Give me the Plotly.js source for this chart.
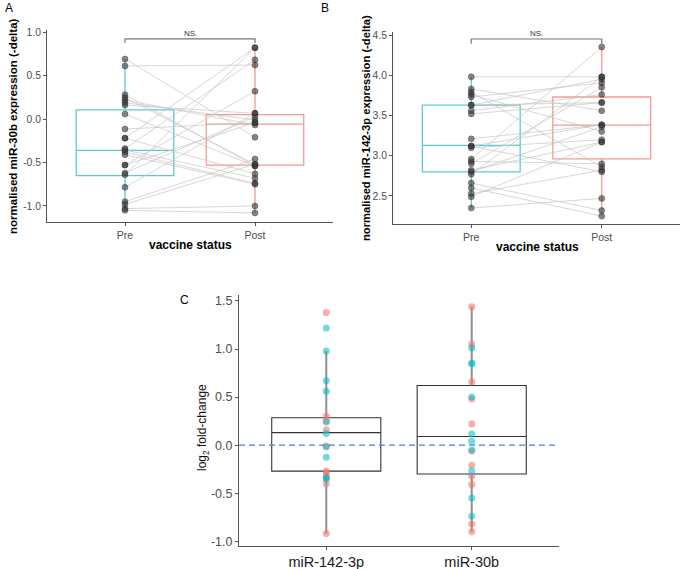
<!DOCTYPE html>
<html>
<head>
<meta charset="utf-8">
<script src="https://cdn.plot.ly/plotly-3.0.1.min.js"></script>
<style>html,body{margin:0;padding:0;background:#fff;}#chart{width:683px;height:569px;}</style>
</head>
<body>
<div id="chart"></div>
<script>
// ---------- Data ----------
const statusCats = ['Pre', 'Post'];
// Panel A: miR-30b paired values (pre / post)
const preA  = [0.69, 0.61, 0.28, 0.245, 0.218, 0.187, 0.16, 0.057, -0.115, -0.22, -0.22, -0.34, -0.356, -0.38, -0.41, -0.53, -0.53, -0.62, -0.64, -0.785, -0.95, -0.98, -1.03, -1.05];
const postA = [-0.21, 0.62, -0.54, -0.52, -0.069, -0.011, 0.065, -0.54, -0.042, 0.82, -0.63, 0.68, -0.68, -0.74, -0.75, 0.32, -0.042, 0.027, 0.82, 0.065, -0.46, -0.52, -1.0, -1.08];
const boxA_q1  = [-0.65, -0.53];
const boxA_med = [-0.36, -0.06];
const boxA_q3  = [0.105, 0.05];
const boxA_lo  = [-1.05, -1.08];
const boxA_hi  = [0.69, 0.82];
const yTicksA = [-1.0, -0.5, 0.0, 0.5, 1.0];
const yTickTextA = ['-1.0', '-0.5', '0.0', '0.5', '1.0'];

// Panel B: miR-142-3p paired values (pre / post)
const preB  = [3.98, 3.83, 3.79, 3.76, 3.73, 3.63, 3.63, 3.56, 3.52, 3.21, 3.12, 3.12, 3.10, 2.96, 2.93, 2.90, 2.82, 2.80, 2.77, 2.66, 2.60, 2.53, 2.49, 2.35];
const postB = [3.98, 3.56, 2.86, 3.30, 3.905, 3.95, 3.66, 3.76, 3.66, 3.385, 3.385, 2.80, 3.20, 4.35, 2.90, 3.85, 3.17, 3.36, 3.98, 2.32, 2.25, 2.82, 3.17, 2.47];
const boxB_q1  = [2.80, 2.96];
const boxB_med = [3.13, 3.38];
const boxB_q3  = [3.63, 3.73];
const boxB_lo  = [2.35, 2.25];
const boxB_hi  = [3.98, 4.35];
const yTicksB = [2.5, 3.0, 3.5, 4.0, 4.5];
const yTickTextB = ['2.5', '3.0', '3.5', '4.0', '4.5'];

// Panel C: log2 fold-change
const mirCats = ['miR-142-3p', 'miR-30b'];
const fc142_red  = [1.38, 0.30, 0.25, 0.16, -0.01, -0.27, -0.29, -0.33, -0.40, -0.92];
const fc142_blue = [1.22, 0.98, 0.67, 0.56, 0.24, 0.12, -0.02, -0.125, -0.34, -0.35];
const fc30b_red  = [1.44, 1.05, 0.66, 0.48, 0.22, -0.06, -0.21, -0.32, -0.41, -0.82, -0.90];
const fc30b_blue = [1.01, 0.85, 0.85, 0.50, 0.115, 0.04, -0.05, -0.27, -0.55, -0.74];
const boxC_q1  = [-0.27, -0.30];
const boxC_med = [0.13, 0.09];
const boxC_q3  = [0.285, 0.62];
const boxC_lo  = [-0.92, -0.90];
const boxC_hi  = [0.98, 1.44];
const yTicksC = [-1.0, -0.5, 0.0, 0.5, 1.0, 1.5];
const yTickTextC = ['-1.0', '-0.5', '0.0', '0.5', '1.0', '1.5'];

// ---------- Styles ----------
const CYAN = '#5ccacd';
const SALMON = '#f29a95';
const FONT = 'Liberation Sans, Arial, sans-serif';

function pairLines(pre, post, xa, ya) {
  const xs = [], ys = [];
  for (let i = 0; i < pre.length; i++) { xs.push(1, 2, null); ys.push(pre[i], post[i], null); }
  return {type: 'scatter', mode: 'lines', x: xs, y: ys, xaxis: xa, yaxis: ya,
          line: {color: 'rgba(195,195,195,0.75)', width: 0.9}, hoverinfo: 'skip'};
}
function pairPoints(pre, post, xa, ya) {
  return {type: 'scatter', mode: 'markers',
          x: pre.map(() => 1).concat(post.map(() => 2)), y: pre.concat(post),
          xaxis: xa, yaxis: ya,
          marker: {size: 6, color: 'rgba(55,55,55,0.6)', line: {width: 0.6, color: 'rgba(30,30,30,0.6)'}}};
}
function boxTrace(xpos, q1, med, q3, lo, hi, color, width, xa, ya) {
  return {type: 'box', x: [xpos], q1: [q1], median: [med], q3: [q3], lowerfence: [lo], upperfence: [hi],
          xaxis: xa, yaxis: ya, width: 0.75, whiskerwidth: 0, boxpoints: false,
          fillcolor: 'rgba(0,0,0,0)', line: {color: color, width: width}, hoverinfo: 'skip'};
}
function whiskerLines(q1, q3, lo, hi) {
  const xs = [], ys = [];
  for (let i = 0; i < q1.length; i++) { xs.push(i + 1, i + 1, null, i + 1, i + 1, null); ys.push(lo[i], q1[i], null, q3[i], hi[i], null); }
  return {type: 'scatter', mode: 'lines', x: xs, y: ys, xaxis: 'x3', yaxis: 'y3',
          line: {color: '#8f8f8f', width: 2}, hoverinfo: 'skip'};
}
function fcPoints(vals, xpos, color) {
  return {type: 'scatter', mode: 'markers', x: vals.map(() => xpos), y: vals, xaxis: 'x3', yaxis: 'y3',
          marker: {size: 7, color: color}};
}

const traces = [
  boxTrace(1, boxA_q1[0], boxA_med[0], boxA_q3[0], boxA_lo[0], boxA_hi[0], CYAN, 1.3, 'x', 'y'),
  boxTrace(2, boxA_q1[1], boxA_med[1], boxA_q3[1], boxA_lo[1], boxA_hi[1], SALMON, 1.3, 'x', 'y'),
  pairLines(preA, postA, 'x', 'y'),
  pairPoints(preA, postA, 'x', 'y'),
  boxTrace(1, boxB_q1[0], boxB_med[0], boxB_q3[0], boxB_lo[0], boxB_hi[0], CYAN, 1.3, 'x2', 'y2'),
  boxTrace(2, boxB_q1[1], boxB_med[1], boxB_q3[1], boxB_lo[1], boxB_hi[1], SALMON, 1.3, 'x2', 'y2'),
  pairLines(preB, postB, 'x2', 'y2'),
  pairPoints(preB, postB, 'x2', 'y2'),
  // panel C: grey whiskers, dark box
  whiskerLines(boxC_q1, boxC_q3, boxC_lo, boxC_hi),
  boxTrace(1, boxC_q1[0], boxC_med[0], boxC_q3[0], boxC_q1[0], boxC_q3[0], '#333333', 1.1, 'x3', 'y3'),
  boxTrace(2, boxC_q1[1], boxC_med[1], boxC_q3[1], boxC_q1[1], boxC_q3[1], '#333333', 1.1, 'x3', 'y3'),
  fcPoints(fc142_red, 1, 'rgba(240,120,115,0.6)'),
  fcPoints(fc142_blue, 1, 'rgba(0,190,196,0.55)'),
  fcPoints(fc30b_red, 2, 'rgba(240,120,115,0.6)'),
  fcPoints(fc30b_blue, 2, 'rgba(0,190,196,0.55)')
];

function catAxis(domain, anchor, labels, size, color) {
  return {domain: domain, anchor: anchor, range: [0.4, 2.6], tickvals: [1, 2], ticktext: labels,
          showline: true, linecolor: '#555', linewidth: 1, ticks: 'outside', ticklen: 3, tickcolor: '#555',
          showgrid: false, zeroline: false, tickfont: {size: size, color: color, family: FONT}, fixedrange: true};
}
function valAxis(domain, anchor, range, tv, tt, size) {
  return {domain: domain, anchor: anchor, range: range, tickvals: tv, ticktext: tt,
          showline: true, linecolor: '#555', linewidth: 1, ticks: 'outside', ticklen: 3, tickcolor: '#555',
          showgrid: false, zeroline: false, tickfont: {size: size, color: '#4d4d4d', family: FONT}, fixedrange: true};
}
const W = 683, H = 569;
const px = v => v / W, py = v => 1 - v / H;

const layout = {
  width: W, height: H, margin: {l: 0, r: 0, t: 0, b: 0},
  paper_bgcolor: '#fff', plot_bgcolor: 'rgba(0,0,0,0)', showlegend: false,
  font: {family: FONT, color: '#4d4d4d'},
  xaxis:  catAxis([px(47), px(333)], 'y', statusCats, 10.5, '#4d4d4d'),
  yaxis:  valAxis([py(222), py(30)], 'x', [-1.184, 1.023], yTicksA, yTickTextA, 10.3),
  xaxis2: catAxis([px(393), px(680)], 'y2', statusCats, 10.5, '#4d4d4d'),
  yaxis2: valAxis([py(224), py(31.7)], 'x2', [2.152, 4.541], yTicksB, yTickTextB, 10.3),
  xaxis3: catAxis([px(239), px(559)], 'y3', mirCats, 14.5, '#1a1a1a'),
  yaxis3: valAxis([py(545.7), py(295)], 'x3', [-1.046, 1.562], yTicksC, yTickTextC, 12.5),
  shapes: [
    // NS bracket A
    {type: 'path', xref: 'x', yref: 'y', path: 'M 1 0.875 L 1 0.92 L 2 0.92 L 2 0.875', line: {color: '#777', width: 1.2}},
    // NS bracket B
    {type: 'path', xref: 'x2', yref: 'y2', path: 'M 1 4.39 L 1 4.45 L 2 4.45 L 2 4.39', line: {color: '#777', width: 1.2}},
    // zero reference C
    {type: 'line', xref: 'x3 domain', yref: 'y3', x0: 0, x1: 1, y0: 0, y1: 0, line: {color: '#4a7fdc', width: 1.3, dash: '6px,4px'}}
  ],
  annotations: [
    {text: 'A', xref: 'paper', yref: 'paper', x: px(3), y: py(8), xanchor: 'left', yanchor: 'middle', showarrow: false, font: {size: 12, color: '#000', family: FONT}},
    {text: 'B', xref: 'paper', yref: 'paper', x: px(319), y: py(8), xanchor: 'left', yanchor: 'middle', showarrow: false, font: {size: 12, color: '#000', family: FONT}},
    {text: 'C', xref: 'paper', yref: 'paper', x: px(178), y: py(300), xanchor: 'left', yanchor: 'middle', showarrow: false, font: {size: 12, color: '#000', family: FONT}},
    {text: 'NS.', xref: 'x', yref: 'y', x: 1.5, y: 0.92, xanchor: 'center', yanchor: 'bottom', yshift: -1, showarrow: false, font: {size: 8, color: '#333', family: FONT}},
    {text: 'NS.', xref: 'x2', yref: 'y2', x: 1.5, y: 4.45, xanchor: 'center', yanchor: 'bottom', yshift: -1, showarrow: false, font: {size: 8, color: '#333', family: FONT}},
    {text: 'normalised miR-30b expression (-delta)', xref: 'paper', yref: 'paper', x: px(13), y: py(126), textangle: -90, xanchor: 'center', yanchor: 'middle', showarrow: false, font: {size: 11.5, color: '#000', family: FONT, weight: 'bold'}},
    {text: 'vaccine status', xref: 'paper', yref: 'paper', x: px(190), y: py(245), xanchor: 'center', yanchor: 'middle', showarrow: false, font: {size: 12, color: '#000', family: FONT, weight: 'bold'}},
    {text: 'normalised miR-142-3p expression (-delta)', xref: 'paper', yref: 'paper', x: px(366), y: py(128), textangle: -90, xanchor: 'center', yanchor: 'middle', showarrow: false, font: {size: 11.2, color: '#000', family: FONT, weight: 'bold'}},
    {text: 'vaccine status', xref: 'paper', yref: 'paper', x: px(537), y: py(246.5), xanchor: 'center', yanchor: 'middle', showarrow: false, font: {size: 12, color: '#000', family: FONT, weight: 'bold'}},
    {text: 'log<sub>2</sub> fold-change', xref: 'paper', yref: 'paper', x: px(203), y: py(428), textangle: -90, xanchor: 'center', yanchor: 'middle', showarrow: false, font: {size: 12, color: '#111', family: FONT}}
  ]
};

Plotly.newPlot('chart', traces, layout, {staticPlot: true, displayModeBar: false});
</script>
</body>
</html>
